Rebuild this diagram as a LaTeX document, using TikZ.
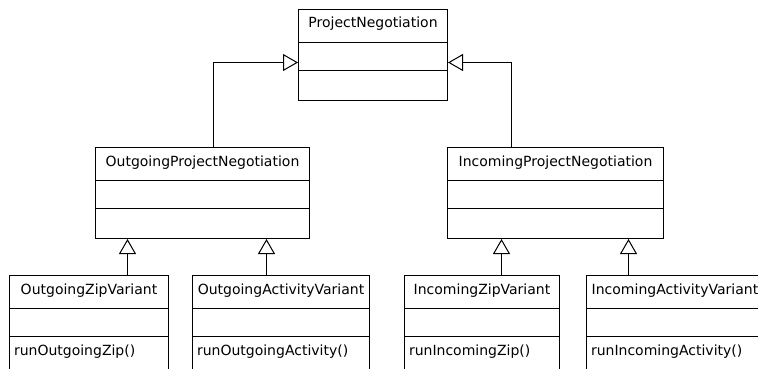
\documentclass[tikz,border=0pt]{standalone}
\usepackage{fontspec}
\setmainfont{DejaVu Sans}
\usetikzlibrary{shapes.multipart,arrows.meta}

\newcommand{\umlfont}{\fontsize{14}{16}\selectfont}
\newcommand{\titlestrut}{\rule[-14pt]{0pt}{32pt}}
\newcommand{\attrstrut}{\rule{0pt}{27pt}}
\newcommand{\emptyops}{\rule{0pt}{29pt}}
\newcommand{\opstrut}{\rule[-16pt]{0pt}{34pt}}

\tikzset{
    classbox/.style={draw, line width=1pt, rectangle split, rectangle split parts=3,
        rectangle split part align={center,left,left}, inner xsep=4.5pt, inner ysep=0pt,
        minimum width=#1, anchor=north west, font=\umlfont},
    inherit/.style={line width=1pt, -{Triangle[open, length=15pt, width=17pt]}}
}

\begin{document}
\begin{tikzpicture}[x=1pt, y=-1pt]
    \useasboundingbox (0,0) rectangle (758,369);
    \clip (0,0) rectangle (758,369);
    % classes
    \node[classbox=149] (pn) at (298,9) {\titlestrut ProjectNegotiation \nodepart{two}\attrstrut \nodepart{three}\emptyops};
    \node[classbox=214] (out) at (95,147) {\titlestrut OutgoingProjectNegotiation \nodepart{two}\attrstrut \nodepart{three}\emptyops};
    \node[classbox=216] (inc) at (447,147) {\titlestrut IncomingProjectNegotiation \nodepart{two}\attrstrut \nodepart{three}\emptyops};
    \node[classbox=159] (ozip) at (9,275) {\titlestrut OutgoingZipVariant \nodepart{two}\attrstrut \nodepart{three}\opstrut runOutgoingZip()};
    \node[classbox=177] (oact) at (192,275) {\titlestrut OutgoingActivityVariant \nodepart{two}\attrstrut \nodepart{three}\opstrut runOutgoingActivity()};
    \node[classbox=155] (izip) at (404,275) {\titlestrut IncomingZipVariant \nodepart{two}\attrstrut \nodepart{three}\opstrut runIncomingZip()};
    \node[classbox=177] (iact) at (586,275) {\titlestrut IncomingActivityVariant \nodepart{two}\attrstrut \nodepart{three}\opstrut runIncomingActivity()};
    % generalisations
    \draw[inherit] ([xshift=11pt]out.north) |- ([yshift=-7.5pt]pn.west);
    \draw[inherit] ([xshift=-44pt]inc.north) |- ([yshift=-7.5pt]pn.east);
    \draw[inherit] ([xshift=38.5pt]ozip.north) -- ([xshift=38.5pt]ozip.north |- out.south);
    \draw[inherit] ([xshift=-14.5pt]oact.north) -- ([xshift=-14.5pt]oact.north |- out.south);
    \draw[inherit] ([xshift=19.5pt]izip.north) -- ([xshift=19.5pt]izip.north |- inc.south);
    \draw[inherit] ([xshift=-46.5pt]iact.north) -- ([xshift=-46.5pt]iact.north |- inc.south);
\end{tikzpicture}
\end{document}
